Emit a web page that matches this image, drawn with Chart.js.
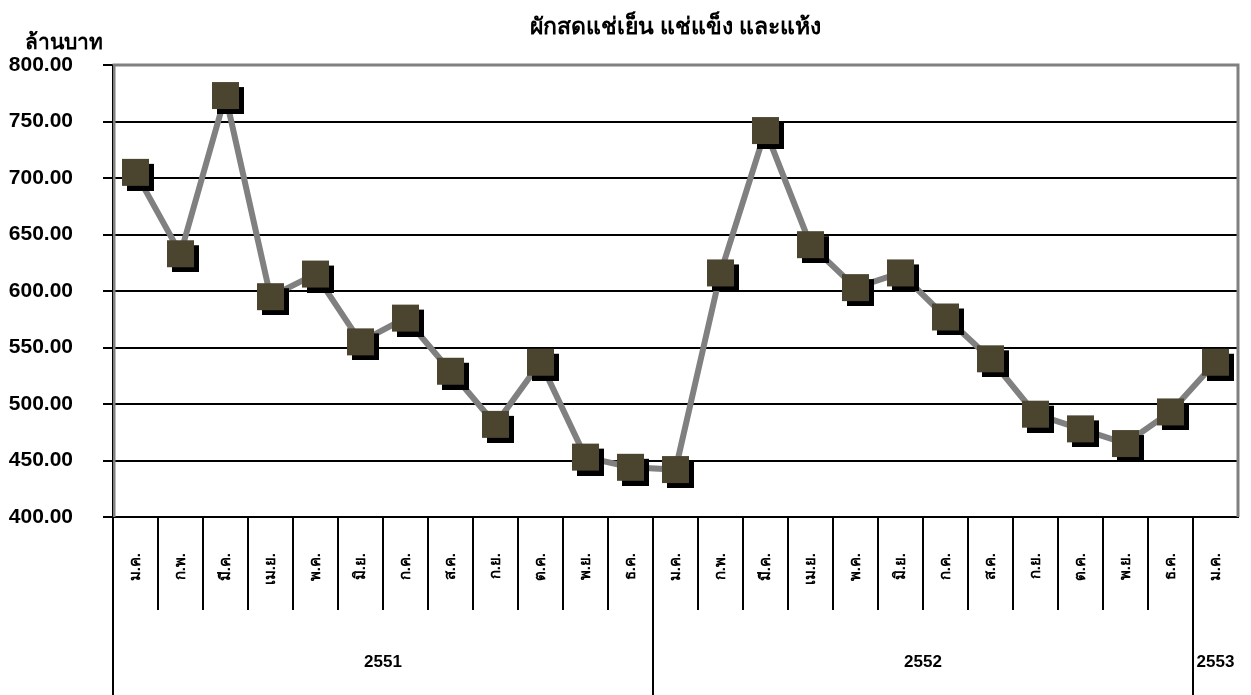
<!DOCTYPE html>
<html>
<head>
<meta charset="utf-8">
<script src="https://cdn.jsdelivr.net/npm/chart.js@4/dist/chart.umd.min.js"></script>
<style>
  body { margin: 0; background: #fff; }
  #wrap { width: 1251px; height: 695px; }
</style>
</head>
<body>
<div id="wrap"><canvas id="veg"></canvas></div>
<script>
var months = ['ม.ค.', 'ก.พ.', 'มี.ค.', 'เม.ย.', 'พ.ค.', 'มิ.ย.', 'ก.ค.', 'ส.ค.', 'ก.ย.', 'ต.ค.', 'พ.ย.', 'ธ.ค.',
              'ม.ค.', 'ก.พ.', 'มี.ค.', 'เม.ย.', 'พ.ค.', 'มิ.ย.', 'ก.ค.', 'ส.ค.', 'ก.ย.', 'ต.ค.', 'พ.ย.', 'ธ.ค.',
              'ม.ค.'];
var years = ['2551', '2552', '2553'];
var monthsPerYear = [12, 12, 1];
var values = [705, 633, 773, 595, 615, 555, 576, 529, 482, 537, 453, 444,
              442, 616, 742, 641, 603, 616, 577, 540, 491, 478, 465, 493,
              537];
var chartTitle = 'ผักสดแช่เย็น แช่แข็ง และแห้ง';
var unitLabel = 'ล้านบาท';

var FONT = "'Liberation Sans', Arial, 'DejaVu Sans', sans-serif";

// square marker with a black drop shadow
var marker = document.createElement('canvas');
marker.width = 37; marker.height = 37;
var m = marker.getContext('2d');
m.fillStyle = '#000';
m.fillRect(10, 10, 27, 27);
m.fillStyle = '#4b4530';
m.fillRect(5, 5, 27, 27);

var extras = {
  id: 'extras',
  beforeDatasetsDraw: function (chart) {
    var c = chart.ctx, a = chart.chartArea;
    c.save();
    c.strokeStyle = '#808080';
    c.lineWidth = 3;
    c.beginPath();
    c.moveTo(a.left + 1, a.bottom);
    c.lineTo(a.left + 1, a.top);
    c.lineTo(a.right, a.top);
    c.lineTo(a.right, a.bottom);
    c.stroke();
    c.strokeStyle = '#000';
    c.lineWidth = 1;
    c.beginPath();
    c.moveTo(a.left - 0.5, a.top);
    c.lineTo(a.left - 0.5, a.bottom);
    c.stroke();
    c.restore();
  },
  afterDraw: function (chart) {
    var c = chart.ctx, a = chart.chartArea, xs = chart.scales.x;
    var half = (xs.getPixelForValue(1) - xs.getPixelForValue(0)) / 2;
    c.save();
    c.strokeStyle = '#000';
    c.lineWidth = 2;
    // month cell separators
    for (var i = 0; i < months.length; i++) {
      var bx = Math.round(xs.getPixelForValue(i) - half);
      c.beginPath();
      c.moveTo(bx, a.bottom);
      c.lineTo(bx, 610);
      c.stroke();
    }
    // year groups
    c.fillStyle = '#000';
    c.font = 'bold 17px ' + FONT;
    c.textAlign = 'center';
    c.textBaseline = 'middle';
    var start = 0;
    for (var y = 0; y < years.length; y++) {
      var x0 = Math.round(xs.getPixelForValue(start) - half);
      var x1 = xs.getPixelForValue(start + monthsPerYear[y] - 1) + half;
      c.beginPath();
      c.moveTo(x0, a.bottom);
      c.lineTo(x0, chart.height);
      c.stroke();
      c.fillText(years[y], (x0 + x1) / 2, 662);
      start += monthsPerYear[y];
    }
    // titles
    c.font = 'bold 23px ' + FONT;
    c.fillText(chartTitle, (a.left + a.right) / 2, 28);
    c.font = 'bold 21px ' + FONT;
    c.fillText(unitLabel, 64, 43);
    c.restore();
  }
};

new Chart(document.getElementById('veg'), {
  type: 'line',
  data: {
    labels: months,
    datasets: [{
      data: values,
      borderColor: '#808080',
      borderWidth: 6,
      pointStyle: marker,
      pointRadius: 14,
      tension: 0
    }]
  },
  options: {
    responsive: true,
    maintainAspectRatio: false,
    animation: false,
    events: [],
    layout: { autoPadding: false, padding: { top: 65, right: 13, left: 0, bottom: 0 } },
    plugins: { legend: { display: false }, tooltip: { enabled: false }, title: { display: false } },
    scales: {
      x: {
        type: 'category',
        offset: true,
        grid: { display: false, drawTicks: false },
        border: { display: true, color: '#000', width: 2 },
        ticks: {
          autoSkip: false,
          maxRotation: 90,
          minRotation: 90,
          padding: 36,
          color: '#000',
          font: { family: FONT, size: 15, weight: 'bold' }
        },
        afterFit: function (s) {
          s.height = 178;
          s.paddingLeft = 0;
          s.paddingRight = 0;
        }
      },
      y: {
        min: 400,
        max: 800,
        grid: {
          color: function (ctx) { return ctx.tick && ctx.tick.value === 800 ? '#808080' : '#000'; },
          tickColor: '#000',
          lineWidth: 2,
          tickLength: 10
        },
        border: { display: false },
        ticks: {
          stepSize: 50,
          padding: 30,
          color: '#000',
          font: { family: FONT, size: 21, weight: 'bold' },
          callback: function (v) { return v.toFixed(2); }
        },
        afterFit: function (s) { s.width = 113; }
      }
    }
  },
  plugins: [extras]
});
</script>
</body>
</html>
